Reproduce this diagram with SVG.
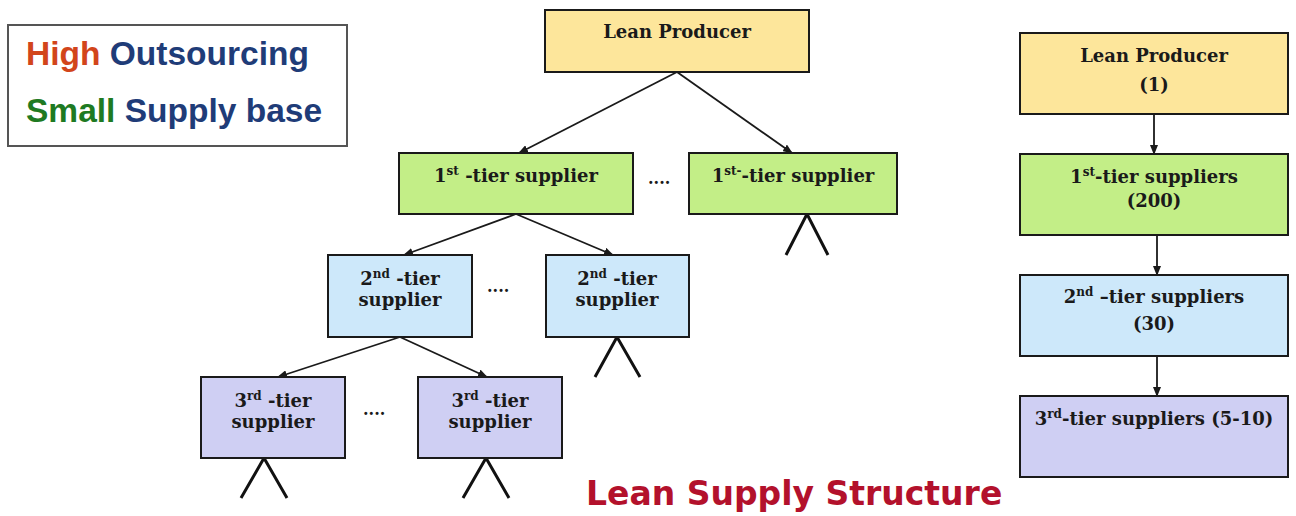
<svg xmlns="http://www.w3.org/2000/svg" width="1296" height="516" viewBox="0 0 1296 516">
<style>
.box{stroke:#1a1a1a;stroke-width:2}
.y{fill:#FDE69B}.g{fill:#C3EE87}.b{fill:#CDE8FA}.p{fill:#CFCFF3}
.t{font-family:"DejaVu Serif","Liberation Serif",serif;font-weight:bold;font-size:18px;fill:#1a1a1a;text-anchor:middle}
.s{font-size:12px}
.c{stroke:#1a1a1a;stroke-width:1.8;fill:none}
.k{stroke:#111;stroke-width:3;fill:none}
.d{font-family:"DejaVu Serif",serif;font-weight:bold;font-size:16px;fill:#1a1a1a}
.lg{font-family:"Liberation Sans",Arial,sans-serif;font-weight:bold;font-size:33.5px}
</style>
<defs>
<marker id="ah" markerWidth="10" markerHeight="8" refX="9" refY="4" orient="auto" markerUnits="userSpaceOnUse">
<path d="M0,0 L10,4 L0,8 Z" fill="#1a1a1a"/>
</marker>
</defs>
<rect width="1296" height="516" fill="#fff"/>
<g id="legend">
<rect x="8" y="25" width="339" height="121" fill="#fff" stroke="#555" stroke-width="2"/>
<text class="lg" x="26" y="65"><tspan fill="#D2451B">High</tspan><tspan fill="#1F3C78"> Outsourcing</tspan></text>
<text class="lg" x="26" y="122"><tspan fill="#1E7A22">Small</tspan><tspan fill="#1F3C78"> Supply base</tspan></text>
</g>
<g id="connectors">
<line class="c" x1="677" y1="72" x2="519" y2="153" marker-end="url(#ah)"/>
<line class="c" x1="677" y1="72" x2="792" y2="153" marker-end="url(#ah)"/>
<line class="c" x1="516" y1="214" x2="404" y2="255" marker-end="url(#ah)"/>
<line class="c" x1="516" y1="214" x2="613" y2="255" marker-end="url(#ah)"/>
<line class="c" x1="400" y1="337" x2="278" y2="377" marker-end="url(#ah)"/>
<line class="c" x1="400" y1="337" x2="487" y2="377" marker-end="url(#ah)"/>
<line class="c" x1="1154" y1="114" x2="1154" y2="154" marker-end="url(#ah)"/>
<line class="c" x1="1157" y1="235" x2="1157" y2="275" marker-end="url(#ah)"/>
<line class="c" x1="1157" y1="356" x2="1157" y2="396" marker-end="url(#ah)"/>
<polyline class="k" points="786,255 807,214 828,255"/>
<polyline class="k" points="595,377 617,337 640,377"/>
<polyline class="k" points="241,498 264,458 287,498"/>
<polyline class="k" points="463,498 486,458 509,498"/>
</g>
<g id="lean-producer">
<rect class="box y" x="545" y="10" width="264" height="62"/>
<text class="t" x="677" y="38">Lean Producer</text>
</g>
<g id="tier1-a">
<rect class="box g" x="399" y="153" width="234" height="61"/>
<text class="t" x="516" y="182">1<tspan class="s" dy="-7">st</tspan><tspan dy="7"> -tier supplier</tspan></text>
</g>
<text class="d" x="648" y="184">....</text>
<g id="tier1-b">
<rect class="box g" x="689" y="153" width="208" height="61"/>
<text class="t" x="793" y="182">1<tspan class="s" dy="-7">st-</tspan><tspan dy="7">-tier supplier</tspan></text>
</g>
<g id="tier2-a">
<rect class="box b" x="328" y="255" width="144" height="82"/>
<text class="t" x="400" y="285">2<tspan class="s" dy="-7">nd</tspan><tspan dy="7"> -tier</tspan></text>
<text class="t" x="400" y="306">supplier</text>
</g>
<text class="d" x="487" y="292">....</text>
<g id="tier2-b">
<rect class="box b" x="546" y="255" width="143" height="82"/>
<text class="t" x="617" y="285">2<tspan class="s" dy="-7">nd</tspan><tspan dy="7"> -tier</tspan></text>
<text class="t" x="617" y="306">supplier</text>
</g>
<g id="tier3-a">
<rect class="box p" x="201" y="377" width="144" height="81"/>
<text class="t" x="273" y="407">3<tspan class="s" dy="-7">rd</tspan><tspan dy="7"> -tier</tspan></text>
<text class="t" x="273" y="428">supplier</text>
</g>
<text class="d" x="363" y="415">....</text>
<g id="tier3-b">
<rect class="box p" x="418" y="377" width="144" height="81"/>
<text class="t" x="490" y="407">3<tspan class="s" dy="-7">rd</tspan><tspan dy="7"> -tier</tspan></text>
<text class="t" x="490" y="428">supplier</text>
</g>
<g id="r-lean-producer">
<rect class="box y" x="1020" y="33" width="268" height="81"/>
<text class="t" x="1154" y="62">Lean Producer</text>
<text class="t" x="1154" y="91">(1)</text>
</g>
<g id="r-tier1">
<rect class="box g" x="1020" y="154" width="268" height="81"/>
<text class="t" x="1154" y="183">1<tspan class="s" dy="-7">st</tspan><tspan dy="7">-tier suppliers</tspan></text>
<text class="t" x="1154" y="207">(200)</text>
</g>
<g id="r-tier2">
<rect class="box b" x="1020" y="275" width="268" height="81"/>
<text class="t" x="1154" y="303">2<tspan class="s" dy="-7">nd</tspan><tspan dy="7"> –tier suppliers</tspan></text>
<text class="t" x="1154" y="330">(30)</text>
</g>
<g id="r-tier3">
<rect class="box p" x="1020" y="396" width="268" height="81"/>
<text class="t" x="1154" y="425">3<tspan class="s" dy="-7">rd</tspan><tspan dy="7">-tier suppliers (5-10)</tspan></text>
</g>
<text x="586" y="505" font-family="'DejaVu Sans',Verdana,sans-serif" font-weight="bold" font-size="33" fill="#B3112C">Lean Supply Structure</text>
</svg>
